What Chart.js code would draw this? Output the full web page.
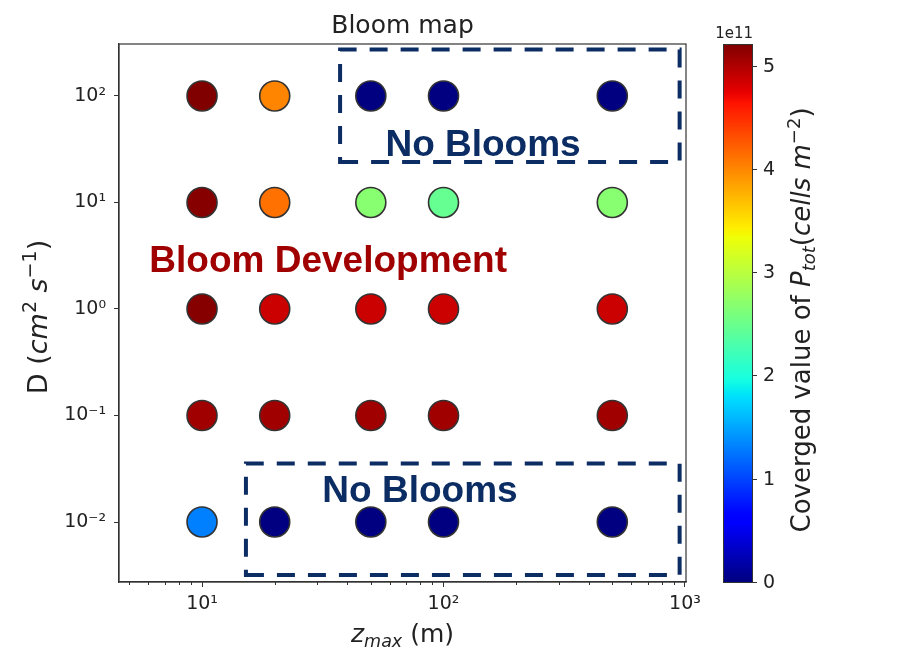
<!DOCTYPE html>
<html><head><meta charset="utf-8">
<script src="https://cdn.jsdelivr.net/npm/chart.js@4.4.1/dist/chart.umd.min.js"></script>
<style>html,body{margin:0;padding:0;background:#fff;}</style>
</head><body>
<canvas id="c" width="904" height="654"></canvas>
<script>
// ---------------- data ----------------
const zmaxValues = [10, 20, 50, 100, 500];           // m
const diffusivityValues = [100, 10, 1, 0.1, 0.01];   // cm^2 s^-1
// converged P_tot (units of 1e11 cells m^-2), one array per D row, ordered like zmaxValues
const ptotD100  = [5.21, 4.01, 0, 0, 0];
const ptotD10   = [5.18, 4.12, 2.68, 2.47, 2.68];
const ptotD1    = [5.18, 4.87, 4.87, 4.87, 4.87];
const ptotD0_1  = [5.06, 5.06, 5.06, 5.06, 5.06];
const ptotD0_01 = [1.30, 0, 0, 0, 0];
const ptotRows = [ptotD100, ptotD10, ptotD1, ptotD0_1, ptotD0_01];

const xTickValues = [10, 100, 1000];
const yTickValues = [0.01, 0.1, 1, 10, 100];
const colorbarTicks = [0, 1, 2, 3, 4, 5];
const colorbarExponent = '1e11';

// annotation regions in data coordinates [xMin, xMax, yMin, yMax]
const noBloomsUpperBox = [37.3, 950, 24.0, 273];
const noBloomsLowerBox = [15.2, 950, 0.00318, 0.0354];
// annotation text anchors in data coordinates [x, y]
const bloomDevText = 'Bloom Development';
const bloomDevAnchor = [33.3, 2.226];
const noBloomsText = 'No Blooms';
const noBloomsUpperAnchor = [145.8, 27.4];
const noBloomsLowerAnchor = [79.9, 0.01542];

// ---------------- colormap (matplotlib jet) ----------------
const jetR = [[0,0],[0.35,0],[0.66,1],[0.89,1],[1,0.5]];
const jetG = [[0,0],[0.125,0],[0.375,1],[0.64,1],[0.91,0],[1,0]];
const jetB = [[0,0.5],[0.11,1],[0.34,1],[0.65,0],[1,0]];
function seg(s, t) {
  t = Math.max(0, Math.min(1, t));
  for (let i = 1; i < s.length; i++) {
    if (t <= s[i][0]) {
      const f = (t - s[i-1][0]) / (s[i][0] - s[i-1][0]);
      return s[i-1][1] + f * (s[i][1] - s[i-1][1]);
    }
  }
  return s[s.length-1][1];
}
function jet(t) {
  const c = v => Math.round(255 * v);
  return `rgb(${c(seg(jetR,t))},${c(seg(jetG,t))},${c(seg(jetB,t))})`;
}
const allVals = ptotRows.flat();
const vmin = 0;
const vmax = Math.max(...allVals);

// ---------------- build dataset ----------------
const points = [];
const colors = [];
diffusivityValues.forEach((d, r) => {
  zmaxValues.forEach((z, c) => {
    points.push({x: z, y: d, v: ptotRows[r][c]});
    colors.push(jet((ptotRows[r][c] - vmin) / (vmax - vmin)));
  });
});

const SUP = {'0':'⁰','1':'¹','2':'²','3':'³','4':'⁴','-':'⁻'};
function powLabel(v) {
  const e = Math.round(Math.log10(v));
  return '10' + String(e).split('').map(ch => SUP[ch]).join('');
}

const FAM = '"DejaVu Sans"';
function fontOf(s) {
  return `${s.italic ? 'italic ' : ''}${s.bold ? 'bold ' : ''}${s.size}px ${s.fam || FAM}`;
}
function drawRich(ctx, segs, x, y, angle) {
  ctx.save();
  ctx.translate(x, y);
  ctx.rotate(angle || 0);
  ctx.textAlign = 'left';
  ctx.textBaseline = 'alphabetic';
  let total = 0;
  segs.forEach(s => { ctx.font = fontOf(s); s.w = ctx.measureText(s.t).width; total += s.w; });
  let cx = -total / 2;
  segs.forEach(s => { ctx.font = fontOf(s); ctx.fillText(s.t, cx, s.dy || 0); cx += s.w; });
  ctx.restore();
}

const LS = 25, SS = 17.5;
const decorPlugin = {
  id: 'decor',
  afterDraw(chart) {
    const {ctx, chartArea: ca, scales} = chart;
    const xs = scales.x, ys = scales.y, cb = scales.cbar;
    ctx.save();
    // frame
    ctx.strokeStyle = '#333'; ctx.lineWidth = 1.2;
    ctx.strokeRect(ca.left, ca.top, ca.right - ca.left, ca.bottom - ca.top);
    // minor x ticks
    ctx.lineWidth = 1;
    for (let dec = 1; dec <= 100; dec *= 10) {
      for (let m = 2; m <= 9; m++) {
        const v = m * dec;
        if (v < xs.min || v > xs.max) continue;
        const px = Math.round(xs.getPixelForValue(v)) + 0.5;
        ctx.beginPath(); ctx.moveTo(px, ca.bottom); ctx.lineTo(px, ca.bottom + 3); ctx.stroke();
      }
    }
    // dashed boxes
    ctx.strokeStyle = '#0c2d64'; ctx.lineWidth = 4;
    ctx.setLineDash([18, 13]); ctx.lineJoin = 'miter'; ctx.lineCap = 'butt';
    [noBloomsUpperBox, noBloomsLowerBox].forEach(b => {
      const x0 = xs.getPixelForValue(b[0]), x1 = xs.getPixelForValue(b[1]);
      const yb = ys.getPixelForValue(b[2]), yt = ys.getPixelForValue(b[3]);
      ctx.beginPath();
      ctx.moveTo(x0, yb); ctx.lineTo(x1, yb); ctx.lineTo(x1, yt); ctx.lineTo(x0, yt); ctx.closePath();
      ctx.stroke();
    });
    ctx.setLineDash([]);
    // annotation texts
    ctx.textAlign = 'center'; ctx.textBaseline = 'alphabetic';
    ctx.font = 'bold 37px "Liberation Sans"';
    ctx.fillStyle = '#a00000';
    ctx.fillText(bloomDevText, xs.getPixelForValue(bloomDevAnchor[0]), ys.getPixelForValue(bloomDevAnchor[1]));
    ctx.fillStyle = '#0c2d64';
    ctx.fillText(noBloomsText, xs.getPixelForValue(noBloomsUpperAnchor[0]), ys.getPixelForValue(noBloomsUpperAnchor[1]));
    ctx.fillText(noBloomsText, xs.getPixelForValue(noBloomsLowerAnchor[0]), ys.getPixelForValue(noBloomsLowerAnchor[1]));

    // colorbar
    const cbL = ca.right + 37, cbW = 29;
    const cTop = cb.getPixelForValue(vmax), cBot = cb.getPixelForValue(vmin);
    const g = ctx.createLinearGradient(0, cBot, 0, cTop);
    for (let i = 0; i <= 100; i++) g.addColorStop(i / 100, jet(i / 100));
    ctx.fillStyle = g;
    ctx.fillRect(cbL, cTop, cbW, cBot - cTop);
    ctx.strokeStyle = '#333'; ctx.lineWidth = 1;
    ctx.strokeRect(cbL + 0.5, cTop + 0.5, cbW, cBot - cTop);
    ctx.fillStyle = '#222';
    ctx.font = '19px ' + FAM; ctx.textAlign = 'left'; ctx.textBaseline = 'middle';
    colorbarTicks.forEach(t => {
      const py = Math.round(cb.getPixelForValue(t)) + 0.5;
      ctx.beginPath(); ctx.moveTo(cbL + cbW, py); ctx.lineTo(cbL + cbW + 5, py); ctx.stroke();
      ctx.fillText(String(t), cbL + cbW + 11, py + 1);
    });
    ctx.font = '15px ' + FAM; ctx.textAlign = 'right'; ctx.textBaseline = 'alphabetic';
    ctx.fillText(colorbarExponent, cbL + cbW + 1, cTop - 6);

    // title
    ctx.fillStyle = '#222';
    ctx.font = '25px ' + FAM; ctx.textAlign = 'center';
    ctx.fillText('Bloom map', (ca.left + ca.right) / 2, 33);
    // x label
    drawRich(ctx, [
      {t: 'z', size: LS, italic: true},
      {t: 'max', size: SS, italic: true, dy: 5},
      {t: ' (m)', size: LS}
    ], (ca.left + ca.right) / 2, 642, 0);
    // y label
    drawRich(ctx, [
      {t: 'D (', size: 27},
      {t: 'cm', size: 27, italic: true},
      {t: '2', size: 19, dy: -11},
      {t: ' ', size: 27},
      {t: 's', size: 27, italic: true},
      {t: '−1', size: 19, dy: -11},
      {t: ')', size: 27}
    ], 47, (ca.top + ca.bottom) / 2 + 4, -Math.PI / 2);
    // colorbar label
    drawRich(ctx, [
      {t: 'Coverged value of ', size: 26},
      {t: 'P', size: 26, italic: true},
      {t: 'tot', size: 18, italic: true, dy: 5},
      {t: '(', size: 26},
      {t: 'cells', size: 26, italic: true},
      {t: ' ', size: 26},
      {t: 'm', size: 26, italic: true},
      {t: '−2', size: 18, dy: -10},
      {t: ')', size: 26}
    ], 810, (ca.top + ca.bottom) / 2 + 7, -Math.PI / 2);
    ctx.restore();
  }
};

new Chart(document.getElementById('c'), {
  type: 'scatter',
  data: {
    datasets: [{
      data: points,
      pointRadius: 15,
      pointHoverRadius: 15,
      pointBackgroundColor: colors,
      pointBorderColor: '#333',
      pointBorderWidth: 1.6
    }]
  },
  options: {
    responsive: false,
    devicePixelRatio: 1,
    animation: false,
    events: [],
    layout: {padding: {left: 0, top: 44, right: 218, bottom: 0}},
    plugins: {legend: {display: false}, tooltip: {enabled: false}, title: {display: false}},
    scales: {
      x: {
        type: 'logarithmic', position: 'bottom',
        min: 4.531, max: 1009.6,
        afterBuildTicks: s => { s.ticks = xTickValues.map(v => ({value: v})); },
        afterFit: s => { s.height = 72; },
        grid: {display: true, drawOnChartArea: false, drawTicks: true, tickLength: 5, color: '#333', lineWidth: 1},
        border: {display: true, color: '#333', width: 1.2},
        ticks: {autoSkip: false, maxRotation: 0, padding: 6, color: '#222',
                font: {family: 'DejaVu Sans', size: 19}, callback: v => powLabel(v)}
      },
      y: {
        type: 'logarithmic', position: 'left',
        min: 0.002733, max: 307.7,
        afterBuildTicks: s => { s.ticks = yTickValues.map(v => ({value: v})); },
        afterFit: s => { s.width = 119; },
        grid: {display: true, drawOnChartArea: false, drawTicks: true, tickLength: 5, color: '#333', lineWidth: 1},
        border: {display: true, color: '#333', width: 1.2},
        ticks: {autoSkip: false, padding: 8, color: '#222',
                font: {family: 'DejaVu Sans', size: 19}, callback: v => powLabel(v)}
      },
      cbar: {
        type: 'linear', axis: 'y', position: 'right', display: false,
        min: vmin, max: vmax
      }
    }
  },
  plugins: [decorPlugin]
});
</script>
</body></html>
